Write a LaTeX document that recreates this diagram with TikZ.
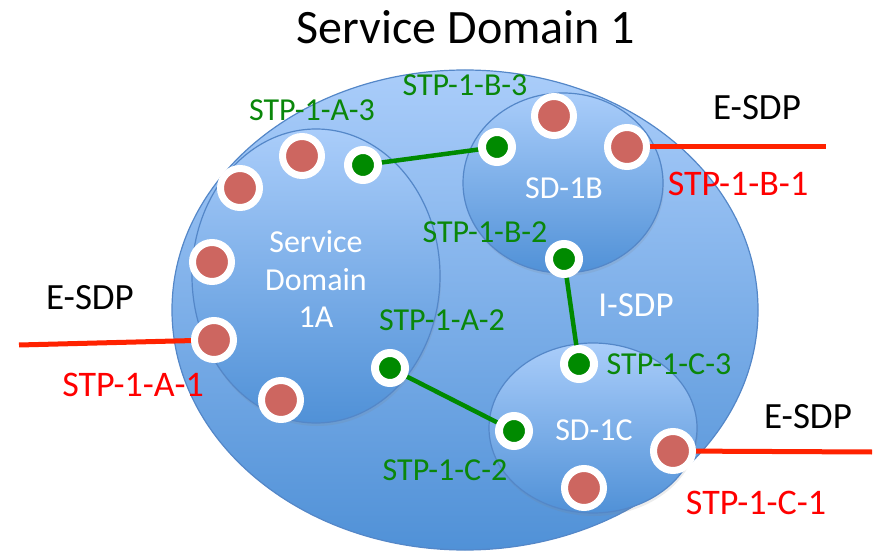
\documentclass[tikz,border=0pt]{standalone}
\usepackage{fontspec}
\setmainfont{Carlito}
\usetikzlibrary{shapes.geometric,shadows}

\definecolor{rimblue}{RGB}{84,135,200}
\definecolor{topblue}{RGB}{170,205,250}
\definecolor{botblue}{RGB}{80,145,215}
\definecolor{dotred}{RGB}{205,102,96}
\definecolor{dotgreen}{RGB}{0,138,0}
\definecolor{labgreen}{RGB}{10,135,10}
\definecolor{linkred}{RGB}{255,34,0}

\tikzset{
  sdzone/.style={ellipse, draw=rimblue, line width=1.2pt,
    top color=topblue, bottom color=botblue, inner sep=0pt},
  sdsub/.style={sdzone,
    drop shadow={opacity=0.15, shadow xshift=1pt, shadow yshift=-3pt}},
  reddot/.style={circle, fill=dotred, draw=white, line width=7pt,
    minimum size=39pt, inner sep=0pt,
    drop shadow={opacity=0.3, shadow xshift=1pt, shadow yshift=-2pt}},
  greendot/.style={circle, fill=dotgreen, draw=white, line width=8pt,
    minimum size=30pt, inner sep=0pt,
    drop shadow={opacity=0.3, shadow xshift=1pt, shadow yshift=-2pt}},
  ilink/.style={draw=dotgreen, line width=4.5pt},
  elink/.style={draw=linkred, line width=5pt},
  glab/.style={font=\fontsize{32}{36}\selectfont, inner sep=0pt, text=labgreen},
  rlab/.style={font=\fontsize{36}{40}\selectfont, inner sep=0pt, text=red},
  wlab/.style={font=\fontsize{32}{36}\selectfont, inner sep=0pt, text=white, align=center},
  sdp/.style={font=\fontsize{37}{40}\selectfont, inner sep=0pt, text=black},
}

\begin{document}
\begin{tikzpicture}[x=1pt,y=-1pt]
\useasboundingbox (0,0) rectangle (878,553);

% title
\node[font=\fontsize{48}{52}\selectfont, inner sep=0pt] (title) at (466,27) {Service Domain 1};

% domains
\node[sdzone, minimum width=586pt, minimum height=480pt] (sd1) at (465,310) {};
\node[sdsub, minimum width=248pt, minimum height=294pt] (sd1a) at (316,276) {};
\node[sdsub, minimum width=200pt, minimum height=180pt] (sd1b) at (563,183) {};
\node[sdsub, minimum width=208pt, minimum height=170pt] (sd1c) at (593,428) {};

% domain captions
\node[wlab, font=\fontsize{32}{37.5}\selectfont] (cap1a) at (316,279) {Service\\Domain\\1A};
\node[wlab] (cap1b) at (564,188) {SD-1B};
\node[wlab] (cap1c) at (594,430) {SD-1C};
\node[wlab, font=\fontsize{35}{40}\selectfont] (isdp) at (636,305) {I-SDP};

% free ends of the external links
\coordinate (ea) at (19,345);
\coordinate (eb) at (826,147);
\coordinate (ec) at (872,452);

% service termination points
\path
  (302,156) coordinate (pa4) (240,188) coordinate (pa5) (212,262) coordinate (pa6)
  (214,340) coordinate (pa1) (281,400) coordinate (pa7)
  (363,165) coordinate (pa3) (390,368) coordinate (pa2)
  (497,147) coordinate (pb3) (554,116) coordinate (pb4) (627,147) coordinate (pb1)
  (564,259) coordinate (pb2)
  (579,364) coordinate (pc3) (514,431) coordinate (pc2) (673,451) coordinate (pc1)
  (584,488) coordinate (pc4);

% internal and external links
\draw[ilink] (pa3) -- (pb3);
\draw[ilink] (pb2) -- (pc3);
\draw[ilink] (pa2) -- (pc2);
\draw[elink] (ea) -- (pa1);
\draw[elink] (pb1) -- (eb);
\draw[elink] (pc1) -- (ec);

\foreach \p in {pa1,pa4,pa5,pa6,pa7,pb1,pb4,pc1,pc4}
  \node[reddot] (d\p) at (\p) {};
\foreach \p in {pa2,pa3,pb2,pb3,pc2,pc3}
  \node[greendot] (d\p) at (\p) {};

% labels
\node[glab] (la3) at (312,110) {STP-1-A-3};
\node[glab] (lb3) at (465,85) {STP-1-B-3};
\node[glab] (lb2) at (485,232) {STP-1-B-2};
\node[glab] (la2) at (442,320) {STP-1-A-2};
\node[glab] (lc3) at (669,364) {STP-1-C-3};
\node[glab] (lc2) at (445,470) {STP-1-C-2};
\node[rlab] (lb1) at (738,184) {STP-1-B-1};
\node[rlab] (la1) at (133,385) {STP-1-A-1};
\node[rlab] (lc1) at (756,503) {STP-1-C-1};
\node[sdp] (sdpb) at (757,108) {E-SDP};
\node[sdp] (sdpa) at (90,298) {E-SDP};
\node[sdp] (sdpc) at (808,417) {E-SDP};
\end{tikzpicture}
\end{document}
